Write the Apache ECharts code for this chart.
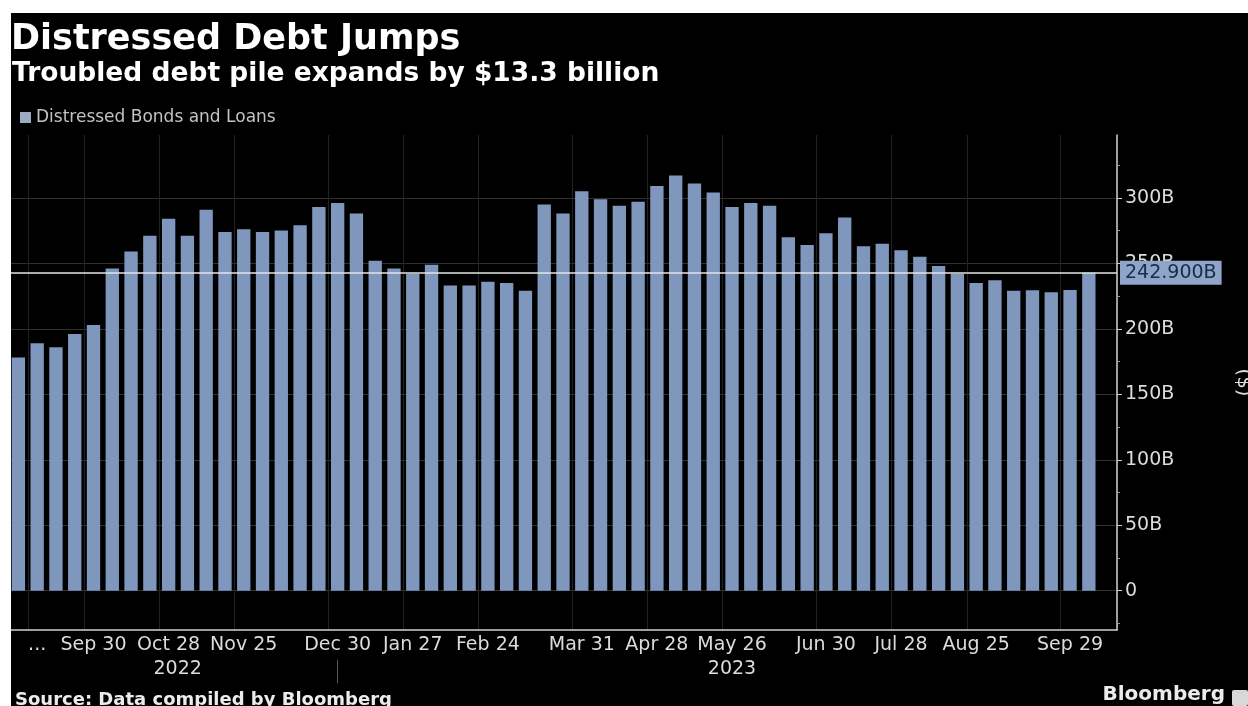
<!DOCTYPE html>
<html>
<head>
<meta charset="utf-8">
<script src="https://cdn.jsdelivr.net/npm/echarts@6/dist/echarts.min.js"></script>
<style>
html,body{margin:0;padding:0;background:#fff;}
#c{width:1248px;height:706px;}
</style>
</head>
<body>
<div id="c"></div>
<script>
// ---- data (weekly, Fridays) ----
const weeks = [
  '2022-09-02','2022-09-09','2022-09-16','2022-09-23','2022-09-30',
  '2022-10-07','2022-10-14','2022-10-21','2022-10-28',
  '2022-11-04','2022-11-11','2022-11-18','2022-11-25',
  '2022-12-02','2022-12-09','2022-12-16','2022-12-23','2022-12-30',
  '2023-01-06','2023-01-13','2023-01-20','2023-01-27',
  '2023-02-03','2023-02-10','2023-02-17','2023-02-24',
  '2023-03-03','2023-03-10','2023-03-17','2023-03-24','2023-03-31',
  '2023-04-07','2023-04-14','2023-04-21','2023-04-28',
  '2023-05-05','2023-05-12','2023-05-19','2023-05-26',
  '2023-06-02','2023-06-09','2023-06-16','2023-06-23','2023-06-30',
  '2023-07-07','2023-07-14','2023-07-21','2023-07-28',
  '2023-08-04','2023-08-11','2023-08-18','2023-08-25',
  '2023-09-01','2023-09-08','2023-09-15','2023-09-22','2023-09-29',
  '2023-10-06'
];
const distressed = [
  178, 189, 186, 196, 203,
  246, 259, 271, 284,
  271, 291, 274, 276,
  274, 275, 279, 293, 296,
  288, 252, 246, 242,
  249, 233, 233, 236,
  235, 229, 295, 288, 305,
  299, 294, 297, 309,
  317, 311, 304, 293,
  296, 294, 270, 264, 273,
  285, 263, 265, 260,
  255, 248, 242, 235,
  237, 229, 229.5, 228, 229.6,
  242.9
];
const tickDates = ['2022-09-09','2022-09-30','2022-10-28','2022-11-25','2022-12-30','2023-01-27','2023-02-24','2023-03-31','2023-04-28','2023-05-26','2023-06-30','2023-07-28','2023-08-25','2023-09-29'];
const tickTexts = ['...','Sep 30','Oct 28','Nov 25','Dec 30','Jan 27','Feb 24','Mar 31','Apr 28','May 26','Jun 30','Jul 28','Aug 25','Sep 29'];
const yearDates = ['2022-10-28','2023-05-26'];
const yearTexts = ['2022','2023'];
const yearBreakDate = '2022-12-30';
const yTickValues = [0, 50, 100, 150, 200, 250, 300];
const yMinorValues = [-25, 25, 75, 125, 175, 225, 275, 325];
const latestValue = 242.9;
const seriesName = 'Distressed Bonds and Loans';

// ---- chart ----
const FONT = 'DejaVu Sans';
const cats = weeks.concat(['']); // one spare slot before the axis
const chart = echarts.init(document.getElementById('c'), null, {renderer: 'canvas'});
const option = {
  animation: false,
  backgroundColor: '#000',
  title: [
    {text: 'Distressed Debt Jumps', left: 11, top: 22, padding: 0,
     textStyle: {color: '#fff', fontSize: 35, fontWeight: 'bold', fontFamily: FONT}},
    {text: 'Troubled debt pile expands by $13.3 billion', left: 12, top: 61, padding: 0,
     textStyle: {color: '#fff', fontSize: 26.5, fontWeight: 'bold', fontFamily: FONT}},
    {text: 'Source: Data compiled by Bloomberg', left: 15, top: 691, padding: 0,
     textStyle: {color: '#ececec', fontSize: 18, fontWeight: 'bold', fontFamily: FONT}},
    {text: 'Bloomberg', right: 23, top: 685, padding: 0,
     textStyle: {color: '#ececec', fontSize: 20, fontWeight: 'bold', fontFamily: FONT}}
  ],
  legend: {
    data: [seriesName], left: 20, top: 109, padding: 0,
    icon: 'rect', itemWidth: 11, itemHeight: 11, itemGap: 5,
    itemStyle: {color: '#9dabc2'},
    textStyle: {color: '#c2c2c2', fontSize: 17, fontFamily: FONT}
  },
  grid: {left: 9, right: 131, top: 135, bottom: 76, containLabel: false, outerBoundsMode: 'none'},
  xAxis: [
    {
      type: 'category', data: cats, boundaryGap: true, position: 'bottom',
      axisLine: {onZero: false, lineStyle: {color: '#cfcfcf', width: 1.5}},
      axisTick: {inside: true, length: 3, alignWithLabel: true, interval: 0, lineStyle: {color: '#9a9a9a'}},
      axisLabel: {
        interval: 0, margin: 6, color: '#dcdcdc', fontSize: 19, fontFamily: FONT,
        formatter: function (v) { const i = tickDates.indexOf(v); return i < 0 ? '' : tickTexts[i]; }
      },
      splitLine: {show: true, interval: function (i, v) { return tickDates.indexOf(v) >= 0; },
                  lineStyle: {color: '#222', width: 1}}
    },
    {
      type: 'category', data: cats, boundaryGap: true, position: 'bottom', offset: 30,
      axisLine: {show: false, onZero: false},
      axisTick: {show: true, inside: false, length: 23, alignWithLabel: true,
                 interval: function (i, v) { return v === yearBreakDate; },
                 lineStyle: {color: '#5a5a5a'}},
      axisLabel: {
        interval: 0, margin: 0, color: '#dcdcdc', fontSize: 19, fontFamily: FONT,
        formatter: function (v) {
          const i = yearDates.indexOf(v);
          if (i < 0) return '';
          return i === 0 ? '{s|' + yearTexts[i] + '}' : yearTexts[i];
        },
        rich: {s: {padding: [0, 0, 0, 18], color: '#dcdcdc', fontSize: 19, fontFamily: FONT}}
      },
      splitLine: {show: false}
    }
  ],
  yAxis: [
    {
      type: 'value', position: 'right', min: -30, max: 348,
      axisLine: {show: true, lineStyle: {color: '#cfcfcf', width: 1.5}},
      axisTick: {show: true, customValues: yTickValues, length: 5, lineStyle: {color: '#cfcfcf'}},
      axisLabel: {customValues: yTickValues, margin: 8, color: '#dcdcdc', fontSize: 19, fontFamily: FONT,
                  formatter: function (v) { return v === 0 ? '0' : v + 'B'; }},
      splitLine: {show: true, lineStyle: {color: '#303030', width: 1}},
      name: '($)', nameLocation: 'middle', nameGap: 116, nameRotate: -90,
      nameTextStyle: {color: '#dcdcdc', fontSize: 20, fontFamily: FONT}
    },
    {
      type: 'value', position: 'right', min: -30, max: 348,
      axisLine: {show: false},
      axisTick: {show: true, customValues: yMinorValues, length: 3, lineStyle: {color: '#9a9a9a'}},
      axisLabel: {show: false},
      splitLine: {show: false}
    }
  ],
  series: [
    {
      name: seriesName, type: 'bar', xAxisIndex: 0, yAxisIndex: 0,
      data: distressed, barCategoryGap: '29%',
      itemStyle: {color: '#7f96bd'},
      markLine: {
        silent: true, symbol: ['none', 'none'], animation: false,
        data: [{yAxis: latestValue}],
        lineStyle: {color: '#e4e4e4', width: 1.5, type: 'solid'},
        label: {
          position: 'end', distance: 3,
          formatter: latestValue.toFixed(3) + 'B',
          backgroundColor: '#8ea4c8', color: '#1b2a48',
          padding: [3, 5, 2, 5], fontSize: 19, fontFamily: FONT
        }
      }
    }
  ],
  graphic: [
    {type: 'rect', left: 0, top: 0, z: 100, shape: {width: 1248, height: 13}, style: {fill: '#fff'}},
    {type: 'rect', left: 0, top: 0, z: 100, shape: {width: 11, height: 706}, style: {fill: '#fff'}},
    {type: 'rect', left: 1232, top: 690, z: 100, shape: {width: 16, height: 16, r: 2}, style: {fill: '#d8d8d8'}}
  ]
};
chart.setOption(option);
</script>
</body>
</html>
